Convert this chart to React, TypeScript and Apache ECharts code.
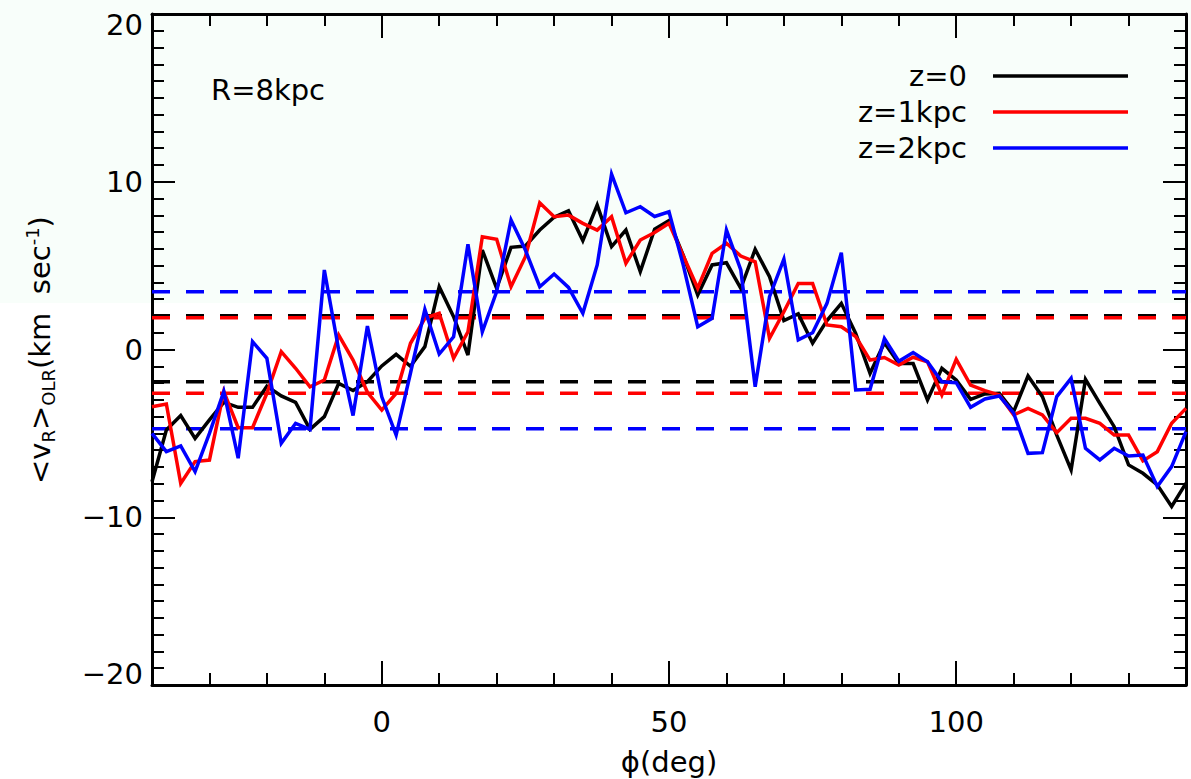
import React, { useEffect, useRef } from "react";
import * as echarts from "echarts";

// phi (deg) sample positions
const phi = [
  -40, -37.5, -35, -32.5, -30, -27.5, -25, -22.5, -20, -17.5, -15, -12.5, -10, -7.5, -5, -2.5,
  0, 2.5, 5, 7.5, 10, 12.5, 15, 17.5, 20, 22.5, 25, 27.5, 30, 32.5, 35, 37.5,
  40, 42.5, 45, 47.5, 50, 52.5, 55, 57.5, 60, 62.5, 65, 67.5, 70, 72.5, 75, 77.5,
  80, 82.5, 85, 87.5, 90, 92.5, 95, 97.5, 100, 102.5, 105, 107.5, 110, 112.5, 115, 117.5,
  120, 122.5, 125, 127.5, 130, 132.5, 135, 137.5, 140,
];

// <v_R>_OLR for z = 0
const vZ0 = [
  -7.88, -4.8, -3.94, -5.3, -4.2, -3.15, -3.45, -3.45, -2.18, -2.77, -3.15, -4.76, -4.0, -2.02, -2.45, -1.92,
  -0.98, -0.29, -1.0, 0.17, 3.74, 1.96, -0.33, 5.93, 3.65, 6.09, 6.17, 7.12, 7.88, 8.27, 6.49, 8.61,
  6.13, 7.12, 4.64, 7.17, 7.68, 5.59, 3.25, 5.04, 5.17, 3.65, 5.97, 4.34, 1.72, 2.12, 0.37, 1.72,
  2.75, 0.96, -1.42, 0.4, -0.84, -0.84, -3.01, -1.12, -1.82, -2.97, -2.65, -2.61, -3.7, -1.58, -2.81, -5.1,
  -7.18, -1.78, -3.21, -4.6, -6.88, -7.38, -8.07, -9.36, -7.97,
];

// z = 1 kpc
const vZ1 = [
  -3.41, -3.25, -7.98, -6.68, -6.59, -2.51, -4.66, -4.66, -2.61, -0.13, -1.12, -2.22, -1.82, 0.86, -0.63, -2.55,
  -3.61, -2.61, 0.37, 1.86, 2.16, -0.53, 1.06, 6.72, 6.57, 3.74, 5.53, 8.75, 7.92, 8.01, 7.52, 7.12,
  7.92, 5.14, 6.53, 6.97, 7.52, 5.57, 3.65, 5.73, 6.33, 5.57, 5.23, 0.67, 2.25, 3.94, 3.94, 1.46,
  1.36, 0.77, -0.63, -0.48, -0.92, -0.46, -0.73, -2.71, -0.59, -2.12, -2.45, -2.71, -3.9, -3.51, -3.9, -4.96,
  -4.1, -4.1, -4.4, -5.1, -5.1, -6.64, -6.09, -4.4, -3.51,
];

// z = 2 kpc
const vZ2 = [
  -5.0, -6.09, -5.75, -7.28, -5.0, -2.51, -6.48, 0.47, -0.53, -5.59, -4.4, -4.76, 4.74, -0.03, -3.94, 1.4,
  -2.82, -5.1, -1.4, 2.39, -0.27, 0.76, 6.27, 1.06, 3.45, 7.72, 5.93, 3.74, 4.5, 3.7, 2.16, 5.04,
  10.46, 8.15, 8.51, 7.93, 8.21, 5.0, 1.36, 1.86, 7.12, 4.74, -2.22, 3.15, 5.39, 0.57, 1.0, 2.75,
  5.77, -2.41, -2.37, 0.66, -0.7, -0.18, -0.73, -1.92, -1.98, -3.45, -2.95, -2.77, -3.8, -6.19, -6.15, -2.81,
  -1.72, -5.89, -6.58, -5.89, -6.35, -6.29, -8.17, -6.98, -4.9,
];

// dashed reference levels (upper, lower)
const levelsZ0 = [2.01, -1.92];
const levelsZ1 = [1.9, -2.61];
const levelsZ2 = [3.44, -4.72];

const seriesNames = ["z=0", "z=1kpc", "z=2kpc"];
const seriesColors = ["#000000", "#ff0000", "#0000ff"];
const xLabelValues = [0, 50, 100];

const FONT = "DejaVu Sans";

export default function App() {
  const ref = useRef<HTMLDivElement>(null);

  useEffect(() => {
    if (!ref.current) return;
    const chart = echarts.init(ref.current, null, { renderer: "svg" });

    const allValues = [vZ0, vZ1, vZ2];
    const allLevels = [levelsZ0, levelsZ1, levelsZ2];

    const dashedSeries: any[] = [];
    allLevels.forEach((lv, k) => {
      lv.forEach((v) => {
        dashedSeries.push({
          type: "line",
          xAxisIndex: 0,
          yAxisIndex: 0,
          data: [
            [phi[0], v],
            [phi[phi.length - 1], v],
          ],
          symbol: "none",
          silent: true,
          lineStyle: { color: seriesColors[k], width: 3.5, type: [18, 16] },
          z: 2,
        });
      });
    });

    const dataSeries = allValues.map((vals, k) => ({
      name: seriesNames[k],
      type: "line",
      xAxisIndex: 0,
      yAxisIndex: 0,
      data: phi.map((p, i) => [p, vals[i]]),
      symbol: "none",
      lineStyle: { color: seriesColors[k], width: 3.5, join: "miter" },
      z: 3 + k,
    }));

    const baseX = {
      type: "value",
      min: -40,
      max: 140,
      gridIndex: 0,
      splitLine: { show: false },
    };

    const fmtY = (v: number) => (v < 0 ? "\u2212" + Math.abs(v) : String(v));

    const legendGraphics: any[] = [];
    const legendY = [76, 112, 148];
    seriesNames.forEach((n, k) => {
      legendGraphics.push({
        type: "text",
        x: 967,
        y: legendY[k],
        style: {
          text: n,
          fontSize: 29,
          fontFamily: FONT,
          fill: "#000",
          align: "right",
          verticalAlign: "middle",
        },
      });
      legendGraphics.push({
        type: "line",
        shape: { x1: 993, y1: legendY[k], x2: 1128, y2: legendY[k] },
        style: { stroke: seriesColors[k], lineWidth: 3.5 },
      });
    });

    chart.setOption({
      animation: false,
      backgroundColor: "transparent",
      grid: { left: 152, top: 14, width: 1034, height: 671, containLabel: false },
      xAxis: [
        {
          ...baseX,
          position: "bottom",
          interval: 10,
          axisLine: { show: true, onZero: false, lineStyle: { color: "#000", width: 3 } },
          axisTick: { show: true, inside: true, length: 12, lineStyle: { color: "#000", width: 2 } },
          axisLabel: {
            show: true,
            customValues: xLabelValues,
            color: "#000",
            fontSize: 29,
            fontFamily: FONT,
            margin: 22,
          },
        },
        {
          ...baseX,
          position: "bottom",
          axisLine: { show: false, onZero: false },
          axisTick: {
            show: true,
            inside: true,
            length: 24,
            customValues: xLabelValues,
            lineStyle: { color: "#000", width: 2 },
          },
          axisLabel: { show: false },
        },
        {
          ...baseX,
          position: "top",
          interval: 10,
          axisLine: { show: true, onZero: false, lineStyle: { color: "#000", width: 3 } },
          axisTick: { show: true, inside: true, length: 12, lineStyle: { color: "#000", width: 2 } },
          axisLabel: { show: false },
        },
        {
          ...baseX,
          position: "top",
          axisLine: { show: false, onZero: false },
          axisTick: {
            show: true,
            inside: true,
            length: 24,
            customValues: xLabelValues,
            lineStyle: { color: "#000", width: 2 },
          },
          axisLabel: { show: false },
        },
      ],
      yAxis: [
        {
          type: "value",
          min: -20,
          max: 20,
          interval: 10,
          position: "left",
          splitLine: { show: false },
          axisLine: { show: true, onZero: false, lineStyle: { color: "#000", width: 3 } },
          axisTick: { show: true, inside: true, length: 23, lineStyle: { color: "#000", width: 2 } },
          minorTick: { show: true, splitNumber: 10, length: 12, lineStyle: { color: "#000", width: 2 } },
          axisLabel: {
            show: true,
            color: "#000",
            fontSize: 29,
            lineHeight: 22,
            fontFamily: FONT,
            margin: 9,
            verticalAlignMaxLabel: "top",
            verticalAlignMinLabel: "bottom",
            formatter: fmtY,
          },
        },
        {
          type: "value",
          min: -20,
          max: 20,
          interval: 10,
          position: "right",
          splitLine: { show: false },
          axisLine: { show: true, onZero: false, lineStyle: { color: "#000", width: 3 } },
          axisTick: { show: true, inside: true, length: 23, lineStyle: { color: "#000", width: 2 } },
          minorTick: { show: true, splitNumber: 10, length: 12, lineStyle: { color: "#000", width: 2 } },
          axisLabel: { show: false },
        },
      ],
      series: [...dashedSeries, ...dataSeries],
      graphic: [
        {
          type: "text",
          x: 211,
          y: 90,
          style: {
            text: "R=8kpc",
            fontSize: 29,
            fontFamily: FONT,
            fill: "#000",
            align: "left",
            verticalAlign: "middle",
          },
        },
        ...legendGraphics,
        {
          type: "text",
          x: 669,
          y: 762,
          style: {
            text: "\u03D5(deg)",
            fontSize: 29,
            fontFamily: FONT,
            fill: "#000",
            align: "center",
            verticalAlign: "middle",
          },
        },
        {
          type: "text",
          x: 40,
          y: 350,
          rotation: Math.PI / 2,
          style: {
            text: "<v{sub|R}>{sub|OLR}(km  sec{sup|-1})",
            fontSize: 29,
            fontFamily: FONT,
            fill: "#000",
            align: "center",
            verticalAlign: "middle",
            rich: {
              sub: { fontSize: 18, fontFamily: FONT, fill: "#000", padding: [16, 0, 0, 0] },
              sup: { fontSize: 18, fontFamily: FONT, fill: "#000", padding: [0, 0, 16, 0] },
            },
          },
        },
      ],
    });

    return () => {
      chart.dispose();
    };
  }, []);

  return (
    <div
      ref={ref}
      style={{
        position: "absolute",
        left: 0,
        top: 0,
        width: 1191,
        height: 779,
        background: "linear-gradient(to bottom, #f8fefa 0px, #f8fefa 303px, #ffffff 303px, #ffffff 100%)",
      }}
    />
  );
}
